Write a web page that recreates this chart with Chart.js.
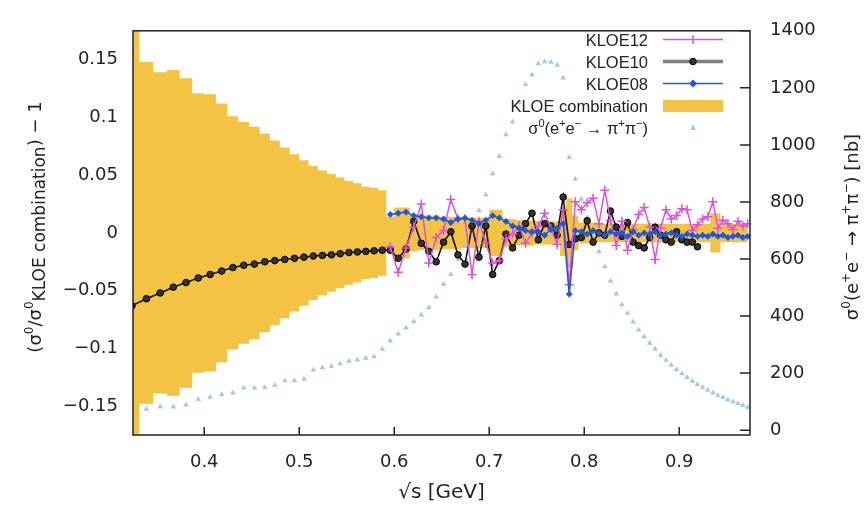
<!DOCTYPE html>
<html><head><meta charset="utf-8">
<script src="https://cdn.jsdelivr.net/npm/chart.js@4.4.0/dist/chart.umd.min.js"></script>
<style>html,body{margin:0;padding:0;background:#fff;}</style>
</head><body>
<canvas id="c" width="866" height="505"></canvas>
<script>
// sqrt(s) bin centres [GeV] (s bins of 0.01 GeV^2 from 0.10 to 0.95)
const sqrtS = [0.3240,0.3391,0.3536,0.3674,0.3808,0.3937,0.4062,0.4183,0.4301,0.4416,
 0.4528,0.4637,0.4743,0.4848,0.4950,0.5050,0.5148,0.5244,0.5339,0.5431,
 0.5523,0.5612,0.5701,0.5788,0.5874,0.5958,0.6042,0.6124,0.6205,0.6285,
 0.6364,0.6442,0.6519,0.6595,0.6671,0.6745,0.6819,0.6892,0.6964,0.7036,
 0.7106,0.7176,0.7246,0.7314,0.7382,0.7450,0.7517,0.7583,0.7649,0.7714,
 0.7778,0.7842,0.7906,0.7969,0.8031,0.8093,0.8155,0.8216,0.8276,0.8337,
 0.8396,0.8456,0.8515,0.8573,0.8631,0.8689,0.8746,0.8803,0.8860,0.8916,
 0.8972,0.9028,0.9083,0.9138,0.9192,0.9247,0.9301,0.9354,0.9407,0.9460,
 0.9513,0.9566,0.9618,0.9670,0.9721];

// KLOE10 relative difference, bins 0..74
const kloe10 = [-0.063,-0.057,-0.052,-0.047,-0.043,-0.039,-0.036,-0.033,-0.030,-0.028,
 -0.027,-0.025,-0.024,-0.023,-0.022,-0.021,-0.020,-0.0195,-0.019,-0.018,
 -0.017,-0.0165,-0.016,-0.0155,-0.015,
 -0.015,-0.022,-0.014,0.010,-0.009,-0.016,-0.025,-0.008,0.001,-0.019,
 -0.027,0.006,-0.021,0.006,-0.036,-0.024,-0.001,-0.013,-0.002,0.008,
 0.017,-0.006,0.008,0.006,-0.002,0.031,
 -0.010,-0.005,-0.004,0.0105,-0.008,0.000,-0.002,0.019,0.005,-0.003,
 0.009,-0.008,-0.011,-0.013,-0.004,0.005,-0.002,-0.006,-0.008,0.001,
 -0.006,-0.008,-0.008,-0.012];
const kloe10Start = 0;

// KLOE12 relative difference, bins 25..84
const kloe12 = [-0.012,-0.034,-0.013,0.005,0.025,-0.026,-0.004,0.002,0.029,0.012,
 0.012,-0.036,0.010,-0.009,-0.026,-0.024,-0.005,-0.001,0.006,-0.009,
 0.000,0.006,0.017,0.004,-0.010,0.020,
 -0.045,0.027,0.020,0.026,0.030,0.008,0.037,0.011,-0.011,0.010,
 -0.015,0.003,0.016,0.022,0.005,-0.023,0.004,0.020,0.012,0.015,
 0.021,0.020,0.002,0.007,0.012,0.014,0.027,0.004,0.011,0.008,
 0.003,0.010,0.006,0.008];
const kloe12Start = 25;

// KLOE08 relative difference, bins 25..84
const kloe08 = [0.016,0.017,0.018,0.015,0.014,0.013,0.013,0.012,0.009,0.012,
 0.013,0.011,0.008,0.011,0.015,0.013,0.010,0.006,0.004,0.002,
 0.001,0.001,-0.002,0.003,0.004,0.008,
 -0.053,0.002,0.001,-0.001,0.002,0.000,-0.002,0.001,-0.001,0.000,
 -0.003,0.001,-0.002,0.000,-0.001,0.001,-0.002,-0.001,0.000,-0.002,
 -0.003,-0.001,-0.002,-0.003,-0.002,-0.003,-0.001,-0.003,-0.002,-0.004,
 -0.003,-0.002,-0.004,-0.003];
const kloe08Start = 25;

// KLOE combination relative uncertainty (band half-width), bins 0..84
const combErr = [0.200,0.148,0.139,0.141,0.134,0.121,0.120,0.112,0.101,0.096,
 0.092,0.086,0.080,0.074,0.068,0.063,0.058,0.054,0.051,0.048,
 0.045,0.043,0.040,0.039,0.037,
 0.014,0.022,0.022,0.016,0.015,0.015,0.015,0.014,0.014,0.014,
 0.013,0.013,0.013,0.013,0.020,0.020,0.012,0.012,0.011,0.011,
 0.011,0.010,0.010,0.010,0.010,0.020,
 0.030,0.015,0.009,0.009,0.009,0.008,0.008,0.008,0.008,0.008,
 0.008,0.008,0.008,0.008,0.008,0.008,0.008,0.008,0.008,0.008,
 0.008,0.008,0.008,0.008,0.008,0.008,0.017,0.017,0.008,0.008,
 0.008,0.008,0.008,0.008];

// sigma0(e+e- -> pi+pi-) [nb], bins 0..84
const sigma0 = [51,74,82,82,89,108,116,125,131,148,
 148,150,157,174,174,179,211,219,224,233,
 242,247,253,258,284,313,338,359,381,404,
 430,467,512,546,600,650,710,770,825,899,
 960,1036,1081,1150,1212,1246,1285,1292,1290,1280,
 1235,956,880,810,745,685,626,573,523,478,
 440,410,380,352,328,305,285,262,245,228,
 212,198,185,172,160,150,140,131,122,115,
 107,100,93,87,80];

const xTicks = [0.4,0.5,0.6,0.7,0.8,0.9];
const leftTicks = [-0.15,-0.1,-0.05,0,0.05,0.1,0.15];
const rightTicks = [0,200,400,600,800,1000,1200,1400];

const COL12 = '#dc52dc', COL10 = '#111111', COL08 = '#1f57d6', COLBAND = '#f5c343', COLSIG = '#9ecae1';

const pts = (arr, start) => arr.map((v, k) => ({x: sqrtS[k + start], y: v}));
const bandUp = combErr.map((v, k) => ({x: sqrtS[k], y: v}));
const bandDn = combErr.map((v, k) => ({x: sqrtS[k], y: -v}));
const sigPts = sigma0.map((v, k) => ({x: sqrtS[k], y: v}));

const TICKFONT = {family: 'DejaVu Sans', size: 18};
const fmtLeft = v => v === 0 ? '0' : (v < 0 ? '\u2212' + String(+(-v).toFixed(2)) : String(+v.toFixed(2)));

function richWidth(ctx, segs) {
  let w = 0;
  for (const s of segs) { ctx.font = s.f; w += ctx.measureText(s.t).width; }
  return w;
}
function drawRich(ctx, segs, x, y) {
  let cx = x;
  for (const s of segs) { ctx.font = s.f; ctx.fillText(s.t, cx, y + (s.dy || 0)); cx += ctx.measureText(s.t).width; }
}

const decor = {
  id: 'decor',
  afterDraw(chart) {
    const ctx = chart.ctx, a = chart.chartArea;
    const sx = chart.scales.x, sy2 = chart.scales.y2;
    ctx.save();
    // frame
    ctx.strokeStyle = '#222'; ctx.lineWidth = 1.5;
    ctx.strokeRect(a.left, a.top, a.right - a.left, a.bottom - a.top);
    // inward tick marks
    ctx.beginPath();
    for (const v of xTicks) { const p = sx.getPixelForValue(v); ctx.moveTo(p, a.bottom); ctx.lineTo(p, a.bottom - 8); }
    for (const v of rightTicks) { const p = sy2.getPixelForValue(v); ctx.moveTo(a.right, p); ctx.lineTo(a.right - 10, p); }
    ctx.stroke();

    ctx.fillStyle = '#222';
    ctx.textBaseline = 'alphabetic'; ctx.textAlign = 'left';
    const M = '18px "DejaVu Sans"', S = '12px "DejaVu Sans"', B = '17px "DejaVu Sans"';
    // x title
    ctx.font = '20px "DejaVu Sans"'; ctx.textAlign = 'center'; ctx.textBaseline = 'middle';
    ctx.fillText('\u221As [GeV]', (a.left + a.right) / 2 + 0, 493);
    ctx.textAlign = 'left'; ctx.textBaseline = 'alphabetic';
    // left title
    const lt = [{t: '(\u03C3', f: M}, {t: '0', f: S, dy: -8}, {t: '/\u03C3', f: M}, {t: '0', f: S, dy: -8},
      {t: 'KLOE combination', f: B, dy: 4}, {t: ') \u2212 1', f: M}];
    let w = richWidth(ctx, lt);
    ctx.save(); ctx.translate(41, 227); ctx.rotate(-Math.PI / 2); drawRich(ctx, lt, -w / 2, 0); ctx.restore();
    // right title
    const rt = [{t: '\u03C3', f: M}, {t: '0', f: S, dy: -8}, {t: '(e', f: M}, {t: '+', f: S, dy: -8}, {t: 'e', f: M},
      {t: '\u2212', f: S, dy: -8}, {t: ' \u2192 \u03C0', f: M}, {t: '+', f: S, dy: -8}, {t: '\u03C0', f: M},
      {t: '\u2212', f: S, dy: -8}, {t: ') [nb]', f: M}];
    w = richWidth(ctx, rt);
    ctx.save(); ctx.translate(858, 227); ctx.rotate(-Math.PI / 2); drawRich(ctx, rt, -w / 2, 0); ctx.restore();

    // legend
    const LF = '16.5px "Liberation Sans"', LS = '11px "Liberation Sans"';
    const tx = 648, l0 = 663, l1 = 723, mx = 693;
    const rows = [39.5, 61.5, 83.5, 106, 127.5];
    ctx.textAlign = 'right'; ctx.font = LF; ctx.fillStyle = '#222';
    ctx.fillText('KLOE12', tx, rows[0] + 6);
    ctx.fillText('KLOE10', tx, rows[1] + 6);
    ctx.fillText('KLOE08', tx, rows[2] + 6);
    ctx.fillText('KLOE combination', tx, rows[3] + 6);
    ctx.textAlign = 'left';
    const sl = [{t: '\u03C3', f: LF}, {t: '0', f: LS, dy: -7}, {t: '(e', f: LF}, {t: '+', f: LS, dy: -7}, {t: 'e', f: LF},
      {t: '\u2212', f: LS, dy: -7}, {t: ' \u2192 \u03C0', f: LF}, {t: '+', f: LS, dy: -7}, {t: '\u03C0', f: LF},
      {t: '\u2212', f: LS, dy: -7}, {t: ')', f: LF}];
    w = richWidth(ctx, sl);
    drawRich(ctx, sl, tx - w, rows[4] + 6);
    // KLOE12 sample
    ctx.strokeStyle = COL12; ctx.lineWidth = 1.5;
    ctx.beginPath(); ctx.moveTo(l0, rows[0]); ctx.lineTo(l1, rows[0]);
    ctx.moveTo(mx - 4.5, rows[0]); ctx.lineTo(mx + 4.5, rows[0]); ctx.moveTo(mx, rows[0] - 4.5); ctx.lineTo(mx, rows[0] + 4.5); ctx.stroke();
    // KLOE10 sample
    ctx.strokeStyle = '#808080'; ctx.lineWidth = 3.5;
    ctx.beginPath(); ctx.moveTo(l0, rows[1]); ctx.lineTo(l1, rows[1]); ctx.stroke();
    ctx.fillStyle = '#333'; ctx.strokeStyle = '#000'; ctx.lineWidth = 1;
    ctx.beginPath(); ctx.arc(mx, rows[1], 3.3, 0, Math.PI * 2); ctx.fill(); ctx.stroke();
    // KLOE08 sample
    ctx.strokeStyle = COL08; ctx.lineWidth = 1.5;
    ctx.beginPath(); ctx.moveTo(l0, rows[2]); ctx.lineTo(l1, rows[2]); ctx.stroke();
    ctx.fillStyle = COL08;
    ctx.beginPath(); ctx.moveTo(mx, rows[2] - 4); ctx.lineTo(mx + 4, rows[2]); ctx.lineTo(mx, rows[2] + 4); ctx.lineTo(mx - 4, rows[2]); ctx.closePath(); ctx.fill();
    // band sample
    ctx.fillStyle = COLBAND; ctx.fillRect(l0, rows[3] - 6, l1 - l0, 12);
    // sigma sample
    ctx.fillStyle = COLSIG;
    ctx.beginPath(); ctx.moveTo(mx, rows[4] - 3); ctx.lineTo(mx + 3, rows[4] + 2.5); ctx.lineTo(mx - 3, rows[4] + 2.5); ctx.closePath(); ctx.fill();
    ctx.restore();
  }
};

new Chart(document.getElementById('c'), {
  type: 'line',
  data: {
    datasets: [
      {label: 'KLOE combination +', data: bandUp, yAxisID: 'y', stepped: 'middle', fill: 'origin',
       backgroundColor: COLBAND, borderWidth: 0, pointRadius: 0, order: 10},
      {label: 'KLOE combination -', data: bandDn, yAxisID: 'y', stepped: 'middle', fill: 'origin',
       backgroundColor: COLBAND, borderWidth: 0, pointRadius: 0, order: 10},
      {label: 'sigma0', data: sigPts, yAxisID: 'y2', showLine: false, pointStyle: 'triangle', pointRadius: 2.8,
       backgroundColor: COLSIG, borderColor: COLSIG, borderWidth: 0.5, order: 6},
      {label: 'KLOE10', data: pts(kloe10, kloe10Start), yAxisID: 'y', borderColor: COL10, borderWidth: 1.6,
       pointStyle: 'circle', pointRadius: 3.3, pointBackgroundColor: '#333', pointBorderColor: '#000', pointBorderWidth: 1, order: 4},
      {label: 'KLOE12', data: pts(kloe12, kloe12Start), yAxisID: 'y', borderColor: COL12, borderWidth: 1.5,
       pointStyle: 'cross', pointRadius: 4.5, pointBorderColor: COL12, pointBorderWidth: 1.5, order: 3},
      {label: 'KLOE08', data: pts(kloe08, kloe08Start), yAxisID: 'y', borderColor: COL08, borderWidth: 1.5,
       pointStyle: 'rectRot', pointRadius: 3.2, pointBackgroundColor: COL08, pointBorderColor: COL08, pointBorderWidth: 0.5, order: 2}
    ]
  },
  options: {
    responsive: false, animation: false, devicePixelRatio: 1,
    layout: {padding: {top: 20, left: 0, right: 0, bottom: 0}},
    plugins: {legend: {display: false}, tooltip: {enabled: false}},
    elements: {line: {tension: 0}},
    scales: {
      x: {type: 'linear', position: 'bottom', min: 0.325, max: 0.9745,
        grid: {display: false, drawTicks: false}, border: {display: false},
        ticks: {font: TICKFONT, color: '#222', padding: 17, maxRotation: 0, callback: v => String(v)},
        afterBuildTicks: s => { s.ticks = xTicks.map(v => ({value: v})); },
        afterFit: s => { s.height = 70; }},
      y: {type: 'linear', position: 'left', min: -0.175, max: 0.175,
        grid: {display: false, drawTicks: false}, border: {display: false},
        ticks: {font: TICKFONT, color: '#222', padding: 15, callback: fmtLeft},
        afterBuildTicks: s => { s.ticks = leftTicks.map(v => ({value: v})); },
        afterFit: s => { s.width = 133; }},
      y2: {type: 'linear', position: 'right', min: -17, max: 1400,
        grid: {display: false, drawTicks: false}, border: {display: false},
        ticks: {font: TICKFONT, color: '#222', padding: 20, callback: v => String(v)},
        afterBuildTicks: s => { s.ticks = rightTicks.map(v => ({value: v})); },
        afterFit: s => { s.width = 116; }}
    }
  },
  plugins: [decor]
});
</script>
</body></html>
